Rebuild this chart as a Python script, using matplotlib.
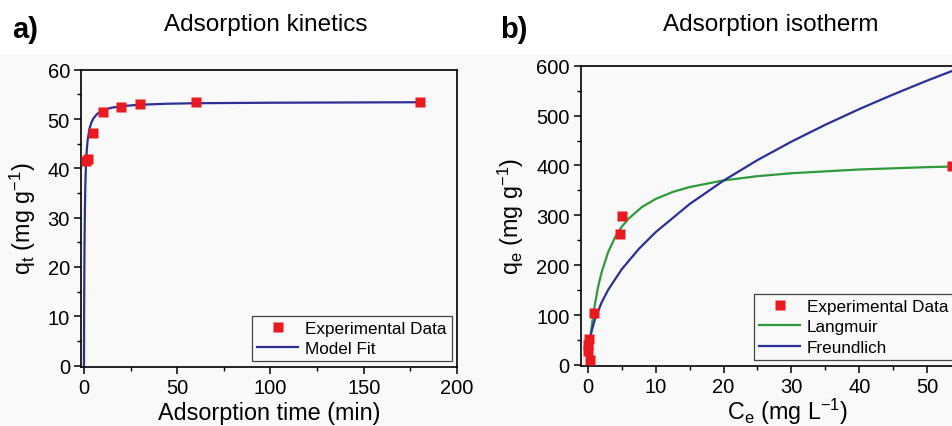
import matplotlib
matplotlib.use("Agg")
import matplotlib.pyplot as plt
from matplotlib.patches import Rectangle
from matplotlib.ticker import MultipleLocator, FixedLocator

plt.rcParams['font.family'] = ['Liberation Sans', 'DejaVu Sans']
plt.rcParams['mathtext.default'] = 'regular'

# ---- Panel a: adsorption kinetics ----
kin_t = [1, 2, 5, 10, 20, 30, 60, 180]
kin_q = [41.4, 41.9, 47.1, 51.4, 52.5, 53.1, 53.4, 53.4]
fit_t = [0, 0.05, 0.1, 0.2, 0.3, 0.5, 0.75, 1, 1.5, 2, 3, 4, 5, 7, 10, 15, 20, 30, 45, 60, 100, 180]
fit_q = [0, 6.9, 12.2, 19.9, 25.2, 31.9, 36.9, 40.0, 43.7, 45.8, 48.1, 49.3, 50.1, 51.0,
         51.8, 52.3, 52.6, 52.9, 53.1, 53.2, 53.3, 53.4]

# ---- Panel b: adsorption isotherm ----
iso_c = [0.3, 0.05, 0.0, 0.15, 0.9, 4.7, 5.1, 53.7]
iso_q = [10, 27, 40, 53, 105, 262, 298, 399]
lang_c = [0, 0.1, 0.25, 0.5, 0.75, 1, 1.5, 2, 3, 4, 5, 6, 8, 10, 12.5, 15, 20, 25, 30, 40, 50, 60]
lang_q = [0, 15.9, 37.6, 69.0, 95.6, 118.4, 155.5, 184.4, 226.5, 255.6, 277.1, 293.4, 316.9,
          332.8, 346.8, 356.7, 370.0, 378.5, 384.4, 391.9, 396.6, 399.8]
freu_c = [0, 0.01, 0.05, 0.1, 0.25, 0.5, 1, 2, 3, 5, 7.5, 10, 15, 20, 25, 30, 35, 40, 45, 50, 55, 60]
freu_q = [0, 10.1, 21.7, 30.1, 46.5, 64.6, 89.6, 124.4, 150.7, 191.9, 232.4, 266.3, 322.6,
          369.6, 410.8, 447.7, 481.6, 513.0, 542.3, 570.1, 596.4, 621.4]
iso_xticks = [0, 10, 20, 30, 40, 50]

RED = '#e8191f'
BLUE = '#2b2f96'
GREEN = '#2e9a3c'
BG = '#f9f9f9'

W, H = 952, 427
fig = plt.figure(figsize=(W / 100, H / 100), dpi=100)
fig.patches.append(Rectangle((0, 0), 1, 1 - 55 / H, transform=fig.transFigure,
                             facecolor=BG, edgecolor='none', zorder=-10))

def px_axes(left, right, top, bottom):
    return fig.add_axes([left / W, 1 - bottom / H, (right - left) / W, (bottom - top) / H])

def style(ax):
    ax.set_facecolor(BG)
    for s in ax.spines.values():
        s.set_linewidth(1.2)
    ax.tick_params(which='major', direction='out', length=5, width=1.1, labelsize=14.5,
                   top=False, right=False, pad=3)
    ax.tick_params(which='minor', direction='out', length=2.8, width=1.0,
                   top=False, right=False)

LEG = dict(fontsize=12.3, frameon=True, fancybox=False, edgecolor='#444444', framealpha=1,
           facecolor=BG, handlelength=2.4, handletextpad=0.4, borderpad=0.3, labelspacing=0.3)

# Panel a
axa = px_axes(81, 457, 70.7, 367.5)
axa.plot(fit_t, fit_q, color=BLUE, lw=1.6, label='Model Fit', zorder=2)
axa.plot(kin_t, kin_q, 's', color=RED, ms=7, mec='none', label='Experimental Data', zorder=3)
axa.set_xlim(-1.6, 200)
axa.set_ylim(-0.2, 60)
axa.xaxis.set_major_locator(MultipleLocator(50))
axa.xaxis.set_minor_locator(MultipleLocator(25))
axa.yaxis.set_major_locator(MultipleLocator(10))
axa.yaxis.set_minor_locator(MultipleLocator(5))
style(axa)
axa.set_xlabel('Adsorption time (min)', fontsize=16.8, labelpad=3)
axa.set_ylabel('q$_t$ (mg g$^{-1}$)', fontsize=16.8, labelpad=7)
h, l = axa.get_legend_handles_labels()
leg = axa.legend(h[::-1], l[::-1], loc='lower right', borderaxespad=0.3, **LEG)
leg.get_frame().set_linewidth(0.9)

# Panel b
axb = px_axes(580.7, 995, 66.7, 366.7)
axb.plot(lang_c, lang_q, color=GREEN, lw=1.6, label='Langmuir', zorder=2)
axb.plot(freu_c, freu_q, color=BLUE, lw=1.6, label='Freundlich', zorder=2)
axb.plot(iso_c, iso_q, 's', color=RED, ms=7, mec='none', label='Experimental Data', zorder=3)
axb.set_xlim(-1.05, 60)
axb.set_ylim(-1.5, 600)
axb.xaxis.set_major_locator(FixedLocator(iso_xticks))
axb.xaxis.set_minor_locator(MultipleLocator(5))
axb.yaxis.set_major_locator(MultipleLocator(100))
axb.yaxis.set_minor_locator(MultipleLocator(50))
style(axb)
axb.set_xlabel('C$_e$ (mg L$^{-1}$)', fontsize=16.8, labelpad=0)
axb.set_ylabel('q$_e$ (mg g$^{-1}$)', fontsize=16.8, labelpad=7)
h, l = axb.get_legend_handles_labels()
leg = axb.legend([h[2], h[0], h[1]], [l[2], l[0], l[1]], loc='lower left',
                 bbox_to_anchor=((754 - 580.7) / (995 - 580.7), 0.02),
                 borderaxespad=0.0, **LEG)
leg.get_frame().set_linewidth(0.9)

# Titles and panel letters
fig.text(12 / W, 1 - 30 / H, 'a)', fontsize=21, fontweight='bold', va='center', ha='left')
fig.text(266 / W, 1 - 25 / H, 'Adsorption kinetics', fontsize=17.5, va='center', ha='center')
fig.text(500 / W, 1 - 30 / H, 'b)', fontsize=21, fontweight='bold', va='center', ha='left')
fig.text(771 / W, 1 - 25 / H, 'Adsorption isotherm', fontsize=17.5, va='center', ha='center')

fig.savefig('out.png', dpi=100)
